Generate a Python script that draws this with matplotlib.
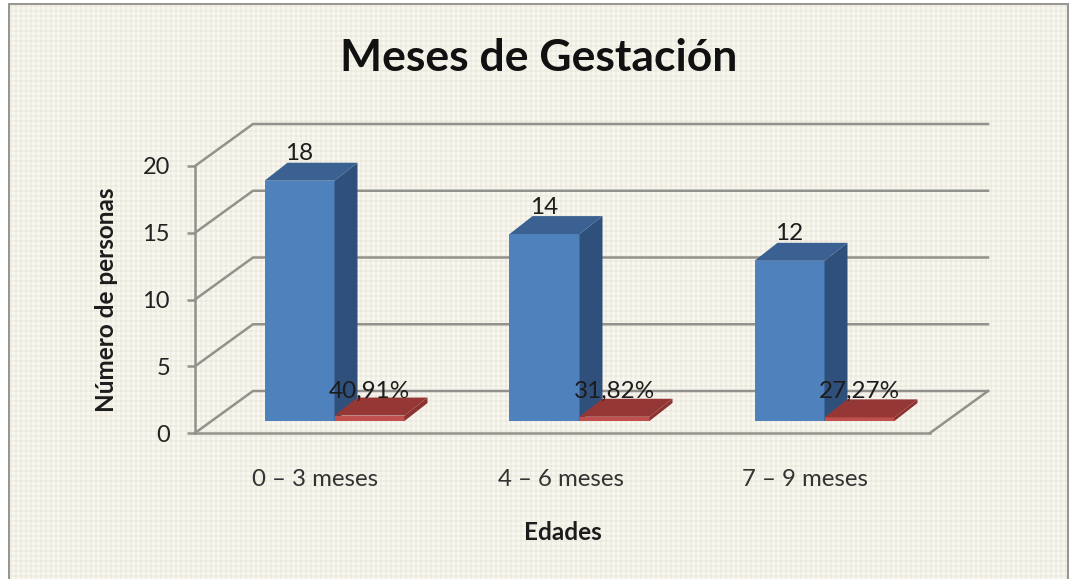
"""Meses de Gestacion: 3D-look Excel column chart drawn on a flat axes."""
import matplotlib.pyplot as plt
import numpy as np
from matplotlib.patches import Polygon

CATEGORIES = ["0 – 3 meses", "4 – 6 meses", "7 – 9 meses"]
COUNTS = [18, 14, 12]
PERCENTS = [40.91, 31.82, 27.27]
PERCENT_LABELS = ["40,91%", "31,82%", "27,27%"]
Y_TICKS = [0, 5, 10, 15, 20]

FIG_W, FIG_H = 1069, 579
# front plane of the chart, in pixels
LEFT, RIGHT, TOP, BOTTOM = 195, 930, 166, 433
WALL_DX, WALL_DY = 58, 42  # depth of the whole box
BAR_DX, BAR_DY = 23, 18  # depth of a column
GAP_DX, GAP_DY = 17, 12  # front of box to front of column
BAR_W = 70
LABEL_SHIFT = 2  # category labels sit slightly left of the slot centre

BLUE_FRONT, BLUE_SIDE, BLUE_TOP = "#4f81bd", "#30507c", "#3a6192"
RED_FRONT, RED_SIDE, RED_TOP = "#c0504d", "#8a3331", "#953735"
GRID = "#92928c"
TEXT = "#1c1c1c"
FONT = "Lato"

plt.rcParams["font.family"] = FONT


def background() -> np.ndarray:
    """Checked paper texture plus the thin grey frame."""
    rows, cols = np.mgrid[0:FIG_H, 0:FIG_W]
    shade = 0.5 * ((rows % 5 < 2).astype(float) + (cols % 5 < 2).astype(float))
    light = np.array([247, 246, 239]) / 255
    dark = np.array([235, 233, 220]) / 255
    img = light + shade[..., None] * (dark - light)
    frame = np.array([150, 150, 150]) / 255
    img[:3] = 1
    img[:, :8] = 1
    img[3:5, 8:] = frame
    img[3:, 8:10] = frame
    img[3:, FIG_W - 2:] = frame
    return img


fig = plt.figure(figsize=(FIG_W / 100, FIG_H / 100), dpi=100)
fig.figimage(background(), xo=0, yo=0, origin="upper", zorder=-1)

ax = fig.add_axes([
    LEFT / FIG_W,
    1 - BOTTOM / FIG_H,
    (RIGHT - LEFT) / FIG_W,
    (BOTTOM - TOP) / FIG_H,
])
ax.patch.set_alpha(0)
ax.set_xlim(0, len(CATEGORIES))
ax.set_ylim(Y_TICKS[0], Y_TICKS[-1])

# pixel offsets expressed in data units
ux = len(CATEGORIES) / (RIGHT - LEFT)
uy = (Y_TICKS[-1] - Y_TICKS[0]) / (BOTTOM - TOP)
wall_x, wall_y = WALL_DX * ux, WALL_DY * uy
depth_x, depth_y = BAR_DX * ux, BAR_DY * uy
gap_x, gap_y = GAP_DX * ux, GAP_DY * uy
bar_w = BAR_W * ux

# box gridlines: side wall then back wall
for tick in Y_TICKS:
    ax.plot(
        [0, wall_x, len(CATEGORIES) + wall_x],
        [tick, tick + wall_y, tick + wall_y],
        color=GRID, lw=1.8, clip_on=False, zorder=1,
    )
# floor edge on the right
ax.plot(
    [len(CATEGORIES), len(CATEGORIES) + wall_x],
    [0, wall_y],
    color=GRID, lw=1.8, clip_on=False, zorder=1,
)


def draw_column(x0, height, front, side, top, z):
    base = gap_y
    ax.bar(x0, height, bar_w, bottom=base, align="edge", color=front, zorder=z, clip_on=False)
    x1 = x0 + bar_w
    y1 = base + height
    ax.add_patch(Polygon(
        [(x1, base), (x1 + depth_x, base + depth_y), (x1 + depth_x, y1 + depth_y), (x1, y1)],
        facecolor=side, edgecolor="none", zorder=z, clip_on=False,
    ))
    ax.add_patch(Polygon(
        [(x0, y1), (x0 + depth_x, y1 + depth_y), (x1 + depth_x, y1 + depth_y), (x1, y1)],
        facecolor=top, edgecolor="none", zorder=z, clip_on=False,
    ))


for i, (count, pct) in enumerate(zip(COUNTS, PERCENTS)):
    center = i + 0.5 + gap_x
    draw_column(center - bar_w, count, BLUE_FRONT, BLUE_SIDE, BLUE_TOP, 3)
    draw_column(center, pct / 100, RED_FRONT, RED_SIDE, RED_TOP, 4)
    ax.text(
        center - bar_w / 2, count + gap_y + 27 * uy, str(count),
        ha="center", va="center", fontsize=17.5, color=TEXT, zorder=6,
    )
    ax.text(
        center + bar_w / 2, 42 * uy, PERCENT_LABELS[i],
        ha="center", va="center", fontsize=17.5, color=TEXT, zorder=6,
    )

ax.set_xticks([i + 0.5 - LABEL_SHIFT * ux for i in range(len(CATEGORIES))])
ax.set_xticklabels(CATEGORIES, fontsize=17.3, color="#333333")
ax.tick_params(axis="x", length=0, pad=26)
ax.set_yticks(Y_TICKS)
ax.tick_params(axis="y", length=6, width=1.8, color=GRID, pad=12, labelsize=17, labelcolor="#222222")

for name in ("top", "right"):
    ax.spines[name].set_visible(False)
for name in ("left", "bottom"):
    ax.spines[name].set_color(GRID)
    ax.spines[name].set_linewidth(1.8)
ax.spines["bottom"].set_zorder(2)

ax.set_ylabel("Número de personas", fontsize=17.5, fontweight="bold", color=TEXT)
ax.yaxis.set_label_coords((107 - LEFT) / (RIGHT - LEFT), (BOTTOM - 300) / (BOTTOM - TOP))
ax.set_xlabel("Edades", fontsize=17.5, fontweight="bold", color=TEXT)
ax.xaxis.set_label_coords((563 - LEFT) / (RIGHT - LEFT), (BOTTOM - 532) / (BOTTOM - TOP))
ax.xaxis.label.set_va("center")
ax.yaxis.label.set_va("center")

fig.text(539 / FIG_W, 1 - 58 / FIG_H, "Meses de Gestación", ha="center", va="center",
         fontsize=32, fontweight="bold", color="#111111")

fig.savefig("out.png", dpi=100)
